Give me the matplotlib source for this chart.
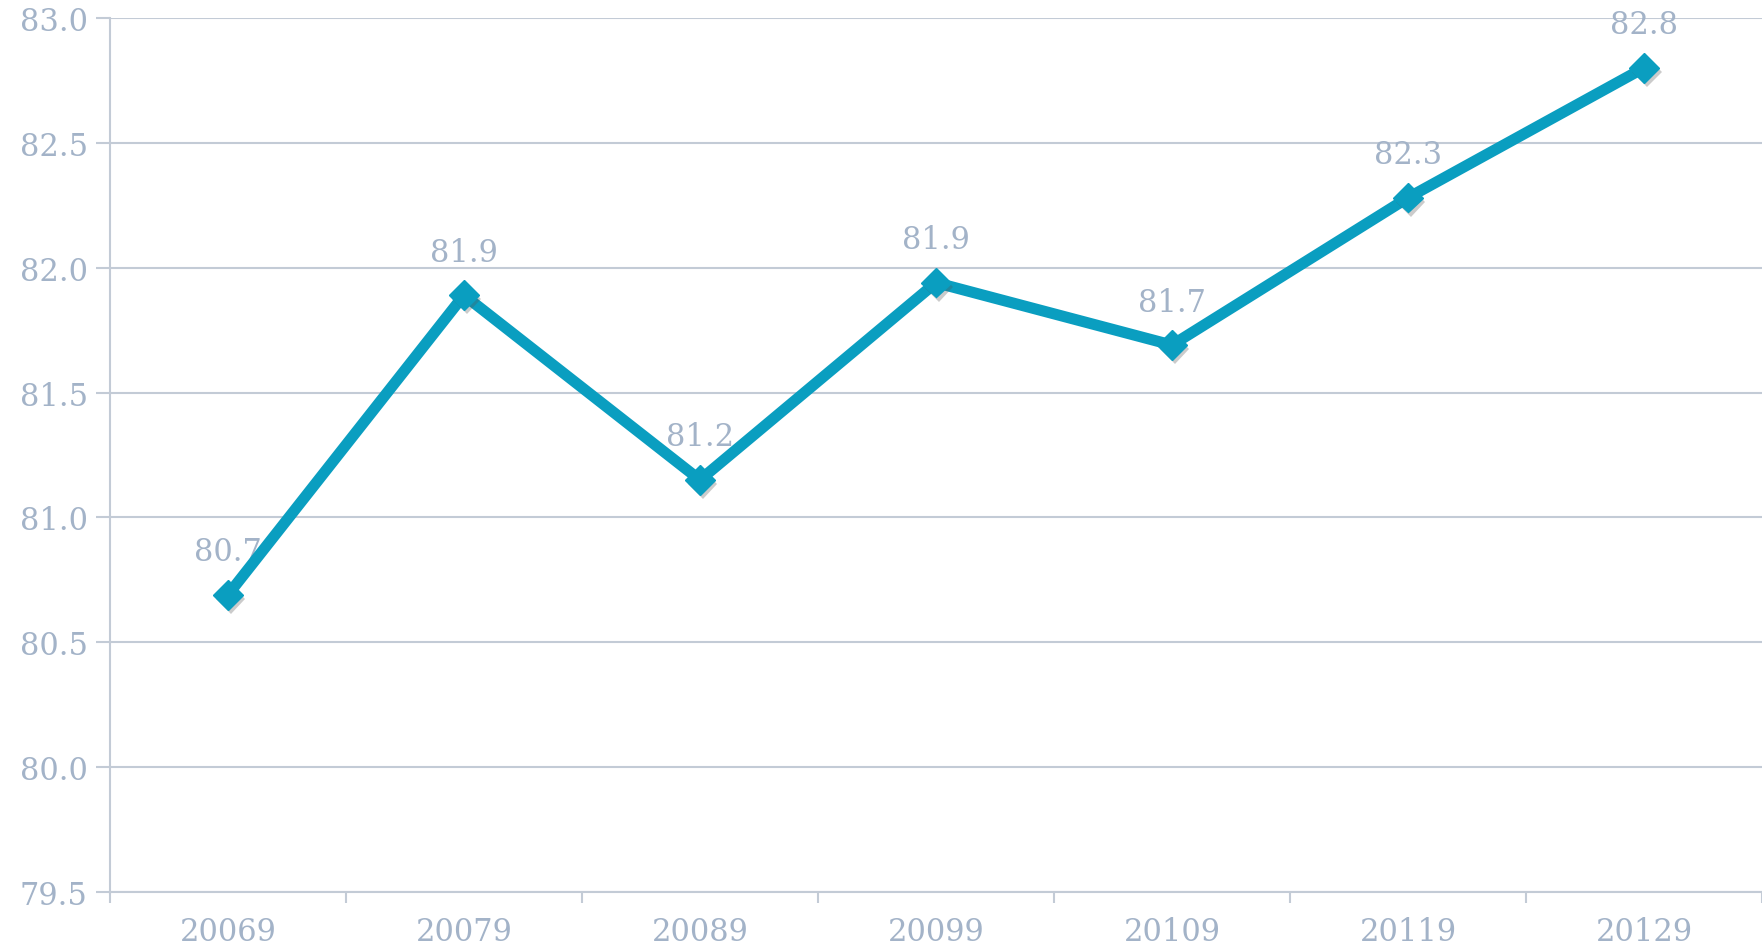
import matplotlib
matplotlib.use("Agg")
import matplotlib.pyplot as plt
import matplotlib.patheffects as pe
import numpy as np

# values
years = ["20069", "20079", "20089", "20099", "20109", "20119", "20129"]
values = [80.69, 81.89, 81.15, 81.94, 81.69, 82.28, 82.80]
labels = ["80.7", "81.9", "81.2", "81.9", "81.7", "82.3", "82.8"]
y_ticks = [79.5, 80.0, 80.5, 81.0, 81.5, 82.0, 82.5, 83.0]

line_col = "#0A9EC0"
text_col = "#A3B3C8"
grid_col = "#C3CBD6"

plt.rcParams['font.family'] = ['DejaVu Serif']

fig = plt.figure(figsize=(17.62, 9.45), dpi=100)
ax = fig.add_axes([0.0624, 0.055, 0.9376, 0.925])

x = np.arange(len(years))

# data labels (drawn under the line)
for xi, v, lab in zip(x, values, labels):
    ax.annotate(lab, (xi, v), xytext=(0, 31), textcoords='offset points',
                ha='center', va='center', fontsize=22, color=text_col, zorder=2)

ax.plot(x, values, color=line_col, lw=8, solid_capstyle='round', zorder=3)
ax.plot(x, values, ls='none', marker='D', ms=15, color=line_col,
        markeredgecolor=line_col, zorder=4,
        path_effects=[pe.SimplePatchShadow(offset=(2, -3), shadow_rgbFace='#555555', alpha=0.3),
                      pe.Normal()])

ax.set_xlim(-0.5, len(years) - 0.5)
ax.set_ylim(79.5, 83.0)
ax.set_yticks(y_ticks)
ax.set_yticklabels([f"{t:.1f}" for t in y_ticks])
ax.yaxis.grid(True, color=grid_col, lw=1.5)
ax.set_axisbelow(True)

ax.set_xticks(x)
ax.set_xticklabels(years)
ax.set_xticks(np.arange(len(years) + 1) - 0.5, minor=True)
ax.tick_params(axis='x', which='major', length=0, pad=17, labelsize=22, labelcolor=text_col)
ax.tick_params(axis='x', which='minor', length=8, width=1.5, color=grid_col, direction='out')
ax.tick_params(axis='y', length=10, width=1.5, color=grid_col, pad=6, labelsize=22, labelcolor=text_col)

for s in ['top', 'right']:
    ax.spines[s].set_visible(False)
for s in ['left', 'bottom']:
    ax.spines[s].set_color(grid_col)
    ax.spines[s].set_linewidth(1.5)

fig.savefig("out.png", dpi=100)
